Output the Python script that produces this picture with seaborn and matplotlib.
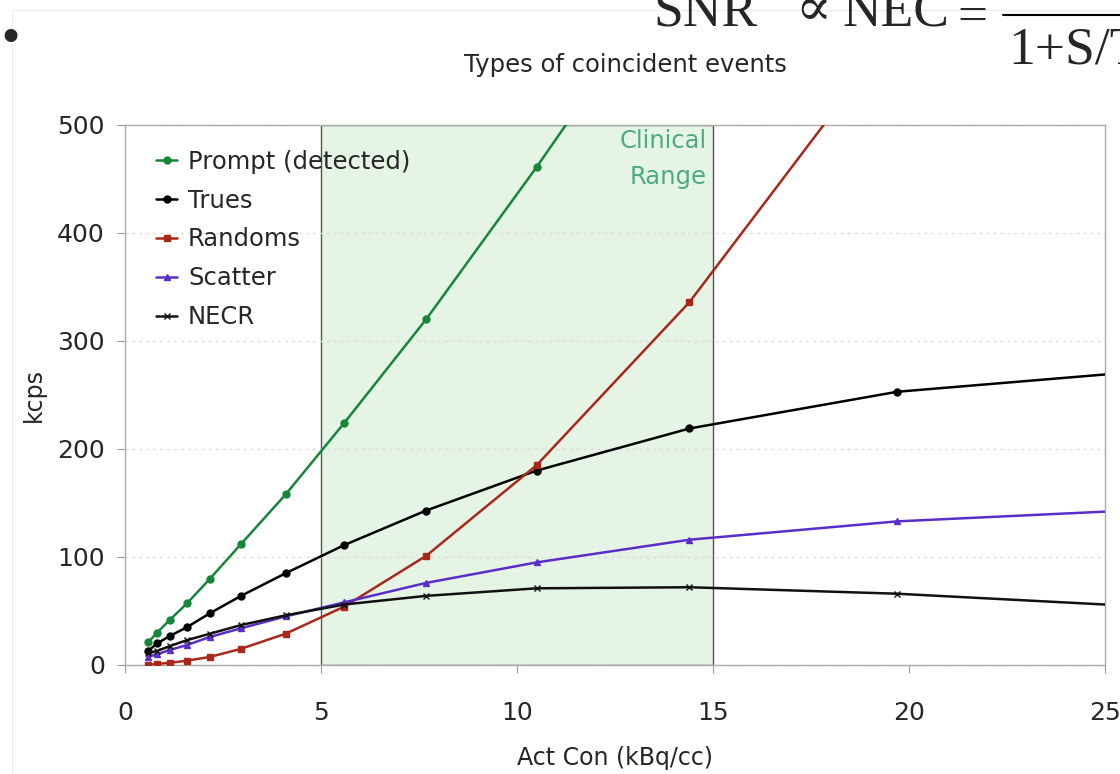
import numpy as np
import pandas as pd
import matplotlib
matplotlib.use("Agg")
import matplotlib.pyplot as plt
import seaborn as sns
from matplotlib.patches import Rectangle

# activity concentration (kBq/cc) of the measured points, plus line end at 25
act = [0.59, 0.82, 1.15, 1.58, 2.17, 2.96, 4.1, 5.59, 7.68, 10.5, 14.4, 19.7, 25.0]

prompt = [21, 30, 42, 57, 80, 112, 158, 224, 320, 461, 665]
trues = [13, 20, 27, 35, 48, 64, 85, 111, 143, 180, 219, 253, 269]
randoms = [0, 1, 2, 4, 7.5, 15, 29, 54, 101, 185, 336, 590]
scatter = [7.5, 10, 14, 18.5, 26, 34, 45, 58, 76, 95, 116, 133, 142]
necr = [11, 13, 17.6, 23, 29, 37, 46, 56, 64, 71, 72, 66, 56]

series_names = ["Prompt (detected)", "Trues", "Randoms", "Scatter", "NECR"]
series_vals = [prompt, trues, randoms, scatter, necr]
colors = ["#16873a", "#000000", "#a8281a", "#5a2ec8", "#111111"]
markers = ["o", "o", "s", "^", "x"]

clinical_lo, clinical_hi = 5, 15
xticks = [0, 5, 10, 15, 20, 25]
yticks = [0, 100, 200, 300, 400, 500]

sns.set_style("white")
plt.rcParams["font.family"] = ["DejaVu Sans"]

fig = plt.figure(figsize=(11.2, 7.74), dpi=100)
ax = fig.add_axes([125 / 1120, 1 - 665 / 774, 980 / 1120, 540 / 774])

# clinical range box
ax.add_patch(Rectangle((clinical_lo, 0), clinical_hi - clinical_lo, 500,
                       facecolor="#e6f4e6", edgecolor="#555555", lw=1.0, zorder=0.5))
ax.text(14.85, 496, "Clinical\nRange", ha="right", va="top", fontsize=17.5,
        color="#4caa84", linespacing=1.6)

for name, vals, c, m in zip(series_names, series_vals, colors, markers):
    n = len(vals)
    xs = act[:n]
    mk = list(range(min(n, 12)))
    ms = 5 if m in ("o", "^") else (4.5 if m == "s" else 5)
    sns.lineplot(x=xs, y=vals, ax=ax, color=c, marker=m, markersize=ms,
                 markeredgecolor=c, markeredgewidth=1.0, lw=1.8, label=name,
                 markevery=mk, sort=False, estimator=None, zorder=3)

ax.set_xlim(0, 25)
ax.set_ylim(0, 500)
ax.set_xticks(xticks)
ax.set_yticks(yticks)
ax.tick_params(axis="both", labelsize=18, length=6, color="#999999", direction="out",
               bottom=True, left=True)
ax.tick_params(axis="x", pad=20)
ax.tick_params(axis="y", pad=8.5)
for s in ax.spines.values():
    s.set_color("#aaaaaa")
    s.set_linewidth(1.0)
ax.yaxis.grid(True, linestyle=(0, (2, 3)), color="#dddddd", lw=1.0)
ax.set_axisbelow(True)

ax.set_xlabel("Act Con (kBq/cc)", fontsize=17, labelpad=15)
ax.set_ylabel("kcps", fontsize=17, labelpad=8)
ax.set_title("Types of coincident events", fontsize=17.5, pad=38, x=(625 - 125) / 980)

leg = ax.legend(loc="upper left", bbox_to_anchor=(0.022, 0.972), frameon=False,
                fontsize=17.5, handlelength=0.85, handletextpad=0.45, labelspacing=0.61,
                borderaxespad=0)

# slide decorations around the chart
fig.add_artist(Rectangle((12 / 1120, 0), 1.2, 1 - 10 / 774, transform=fig.transFigure,
                         fill=False, edgecolor="#eeeeee", lw=1.0))
fig.text(-3 / 1120, 1 - 40 / 774, "\u2022", fontsize=32, va="center", ha="left")
serif = ["Liberation Serif", "DejaVu Serif"]
fs = 38.5
fig.text(653 / 1120, 1 - 25 / 774, "SNR", fontsize=fs, va="baseline", ha="left", family=serif)
fig.text(795 / 1120, 1 - 25 / 774, "\u221d", fontsize=fs, va="baseline", ha="left", family=serif)
fig.text(843 / 1120, 1 - 25 / 774, "NEC", fontsize=fs, va="baseline", ha="left", family=serif)
fig.text(957 / 1120, 1 - 32 / 774, "=", fontsize=fs, va="baseline", ha="left", family=serif)
fig.add_artist(plt.Line2D([1003 / 1120, 1.0], [1 - 15 / 774] * 2, transform=fig.transFigure,
                          color="black", lw=1.5))
fig.text(1008 / 1120, 1 - 63 / 774, "1+S/T", fontsize=fs, va="baseline", ha="left", family=serif)

fig.savefig("out.png", dpi=100)
